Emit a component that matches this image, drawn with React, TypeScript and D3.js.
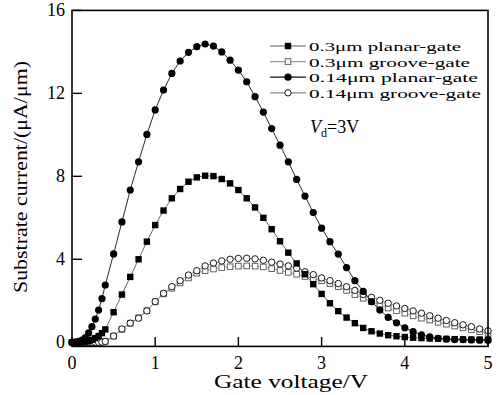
import React from "react";
import * as d3 from "d3";

const xs = [0, 0.04, 0.08, 0.12, 0.16, 0.2, 0.24, 0.28, 0.32, 0.36, 0.4, 0.5, 0.6, 0.7, 0.8, 0.9, 1.0, 1.1, 1.2, 1.3, 1.4, 1.5, 1.6, 1.7, 1.8, 1.9, 2.0, 2.1, 2.2, 2.3, 2.4, 2.5, 2.6, 2.7, 2.8, 2.9, 3.0, 3.1, 3.2, 3.3, 3.4, 3.5, 3.6, 3.7, 3.8, 3.9, 4.0, 4.1, 4.2, 4.3, 4.4, 4.5, 4.6, 4.7, 4.8, 4.9, 5.0];

const planar03 = [0, 0, 0, 0.01, 0.03, 0.06, 0.12, 0.2, 0.3, 0.44, 0.62, 1.45, 2.3, 3.15, 4.0, 4.85, 5.65, 6.35, 6.94, 7.39, 7.74, 7.95, 8.03, 8.01, 7.87, 7.66, 7.34, 6.94, 6.5, 6.0, 5.45, 4.87, 4.32, 3.8, 3.28, 2.8, 2.33, 1.88, 1.5, 1.19, 0.92, 0.69, 0.53, 0.42, 0.34, 0.29, 0.25, 0.22, 0.2, 0.18, 0.17, 0.16, 0.15, 0.14, 0.13, 0.13, 0.12];
const groove03 = [0, 0, 0, 0, 0, 0, 0, 0, 0, 0.01, 0.04, 0.3, 0.62, 0.92, 1.18, 1.52, 1.95, 2.33, 2.6, 2.86, 3.1, 3.33, 3.45, 3.53, 3.6, 3.64, 3.67, 3.68, 3.67, 3.63, 3.55, 3.46, 3.37, 3.28, 3.17, 3.07, 2.96, 2.83, 2.68, 2.5, 2.3, 2.12, 1.95, 1.8, 1.65, 1.52, 1.4, 1.27, 1.16, 1.07, 0.96, 0.87, 0.78, 0.69, 0.6, 0.51, 0.43];
const planar014 = [0, 0.01, 0.04, 0.1, 0.22, 0.45, 0.75, 1.12, 1.55, 2.1, 2.76, 4.26, 5.8, 7.34, 8.7, 10.02, 11.2, 12.16, 12.96, 13.56, 13.98, 14.25, 14.38, 14.28, 14.0, 13.6, 13.12, 12.56, 11.84, 11.1, 10.3, 9.5, 8.7, 7.85, 7.05, 6.25, 5.5, 4.85, 4.25, 3.6, 2.97, 2.45, 1.96, 1.56, 1.2, 0.94, 0.7, 0.51, 0.36, 0.26, 0.19, 0.15, 0.13, 0.12, 0.11, 0.1, 0.1];
const groove014 = [0, 0, 0, 0, 0, 0, 0, 0, 0, 0.01, 0.04, 0.3, 0.64, 0.92, 1.16, 1.51, 1.96, 2.36, 2.68, 2.97, 3.24, 3.45, 3.68, 3.82, 3.92, 4.0, 4.04, 4.05, 4.02, 3.95, 3.86, 3.77, 3.68, 3.57, 3.4, 3.26, 3.1, 2.97, 2.83, 2.68, 2.5, 2.3, 2.17, 2.02, 1.88, 1.75, 1.63, 1.51, 1.4, 1.28, 1.16, 1.05, 0.94, 0.84, 0.75, 0.64, 0.55];

const xTicks = [0, 1, 2, 3, 4, 5];
const yTicks = [0, 4, 8, 12, 16];

type Marker = "fsq" | "osq" | "fci" | "oci";
const seriesList: { name: string; values: number[]; marker: Marker; line: string }[] = [
  { name: "0.3\u03bcm planar-gate", values: planar03, marker: "fsq", line: "#555" },
  { name: "0.3\u03bcm groove-gate", values: groove03, marker: "osq", line: "#999" },
  { name: "0.14\u03bcm planar-gate", values: planar014, marker: "fci", line: "#111" },
  { name: "0.14\u03bcm groove-gate", values: groove014, marker: "oci", line: "#888" },
];
const legendWidths = [152, 161, 169, 172];

const W = 499;
const H = 395;
const FONT = "'Liberation Serif', 'Times New Roman', Times, serif";
const txt: React.CSSProperties = { fontFamily: FONT };

function MarkerShape({ type, x, y }: { type: Marker; x: number; y: number }) {
  const s = 6.4;
  if (type === "fsq") return <rect x={x - s / 2} y={y - s / 2} width={s} height={s} fill="#000" />;
  if (type === "osq") return <rect x={x - s / 2 + 0.4} y={y - s / 2 + 0.4} width={s - 0.8} height={s - 0.8} fill="#fff" stroke="#555" strokeWidth={0.9} />;
  if (type === "fci") return <circle cx={x} cy={y} r={3.6} fill="#000" />;
  return <circle cx={x} cy={y} r={3.2} fill="#fff" stroke="#000" strokeWidth={0.9} />;
}

export default function App() {
  const x = d3.scaleLinear().domain([0, 5]).range([72, 488]);
  const y = d3.scaleLinear().domain([-0.2, 16]).range([346.4, 10.4]);
  const line = d3
    .line<number>()
    .x((_, i) => x(xs[i]))
    .y((d) => y(d));

  const drawOrder = [1, 3, 0, 2];

  return (
    <svg width={W} height={H} style={{ position: "absolute", left: 0, top: 0, background: "#fff" }}>
      <rect x={0} y={0} width={W} height={H} fill="#fff" />
      {drawOrder.map((si) => {
        const s = seriesList[si];
        return (
          <g key={s.name}>
            <path d={line(s.values) || ""} fill="none" stroke={s.line} strokeWidth={0.9} />
            {s.values.map((v, i) => (
              <MarkerShape key={i} type={s.marker} x={x(xs[i])} y={y(v)} />
            ))}
          </g>
        );
      })}
      <rect x={72} y={10.4} width={416} height={336} fill="none" stroke="#000" strokeWidth={1.6} />
      {xTicks.map((t) => (
        <g key={"xt" + t}>
          <line x1={x(t)} x2={x(t)} y1={346.4} y2={337} stroke="#000" strokeWidth={1.4} />
          <text x={x(t)} y={368.5} textAnchor="middle" fontSize={18} style={txt}>
            {t}
          </text>
        </g>
      ))}
      {yTicks.map((t) => (
        <g key={"yt" + t}>
          <line x1={72} x2={82} y1={y(t)} y2={y(t)} stroke="#000" strokeWidth={1.4} />
          <text x={65} y={y(t) + 6} textAnchor="end" fontSize={18} style={txt}>
            {t}
          </text>
        </g>
      ))}
      <text x={291} y={388} textAnchor="middle" fontSize={18} textLength={154} lengthAdjust="spacingAndGlyphs" style={txt}>
        Gate voltage/V
      </text>
      <text
        transform="translate(27,177) rotate(-90)"
        textAnchor="middle"
        fontSize={18}
        textLength={232}
        lengthAdjust="spacingAndGlyphs"
        style={txt}
      >
        Substrate current/(μA/μm)
      </text>
      {seriesList.map((s, i) => {
        const ly = 46 + i * 15.6;
        return (
          <g key={"lg" + i}>
            <line x1={270} x2={306} y1={ly} y2={ly} stroke={s.line} strokeWidth={1.2} />
            <MarkerShape type={s.marker} x={288} y={ly} />
            <text x={309} y={ly + 5} fontSize={13.5} textLength={legendWidths[i]} lengthAdjust="spacingAndGlyphs" style={txt}>
              {s.name}
            </text>
          </g>
        );
      })}
      <text x={310} y={133} fontSize={18} style={txt}>
        <tspan fontStyle="italic">V</tspan>
        <tspan fontSize={12} dy={4}>d</tspan>
        <tspan dy={-4}>=3V</tspan>
      </text>
    </svg>
  );
}
